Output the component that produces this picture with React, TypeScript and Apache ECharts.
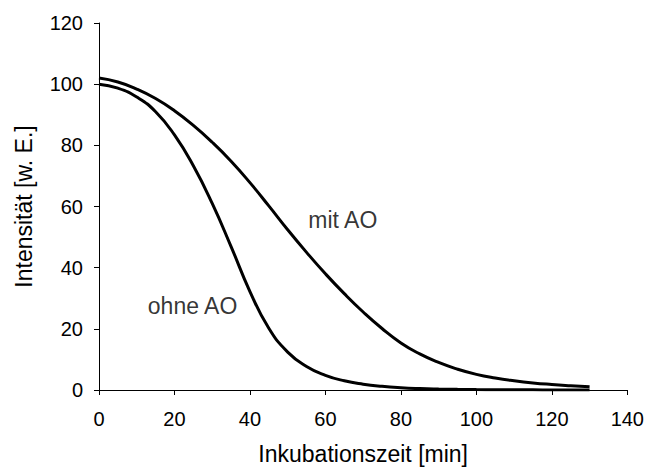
import React, { useEffect, useRef } from "react";
import * as echarts from "echarts";

const times = [0, 5, 10, 15, 20, 25, 30, 35, 40, 45, 50, 55, 60, 65, 70, 75, 80, 85, 90, 95, 100, 105, 110, 115, 120, 125, 130];
const ohneAO = [100, 98.7, 95.8, 91.0, 83.4, 73.3, 61.0, 46.9, 32.2, 20.2, 12.4, 7.7, 4.8, 3.0, 1.9, 1.2, 0.75, 0.48, 0.32, 0.22, 0.15, 0.1, 0.07, 0.05, 0.03, 0.02, 0.01];
const mitAO = [102, 100.7, 98.4, 95.3, 91.3, 86.5, 81.0, 74.8, 67.8, 60.2, 52.4, 45.0, 38.0, 31.5, 25.5, 20.1, 15.4, 11.8, 9.0, 6.8, 5.1, 3.9, 3.0, 2.3, 1.8, 1.4, 1.05];

const seriesNames = ["ohne AO", "mit AO"];
const labelPositions: [number, number][] = [
  [24.8, 27.6],
  [64.6, 55.6],
];

const xTitle = "Inkubationszeit [min]";
const yTitle = "Intensität [w. E.]";

const FONT = "'Liberation Sans', Arial, Helvetica, sans-serif";

export default function App() {
  const ref = useRef<HTMLDivElement>(null);
  useEffect(() => {
    if (!ref.current) return;
    const chart = echarts.init(ref.current, undefined, { renderer: "svg" });
    const toPairs = (ys: number[]) => times.map((t, i) => [t, ys[i]]);
    chart.setOption({
      animation: false,
      backgroundColor: "#ffffff",
      textStyle: { fontFamily: FONT, color: "#000" },
      grid: { left: 99, right: 18, top: 23, bottom: 77, containLabel: false },
      xAxis: {
        type: "value",
        min: 0,
        max: 140,
        interval: 20,
        name: xTitle,
        nameLocation: "middle",
        nameGap: 52,
        nameTextStyle: { fontFamily: FONT, fontSize: 23, color: "#000" },
        axisLine: { show: true, onZero: false, lineStyle: { color: "#000", width: 1 } },
        axisTick: { show: true, length: 5, inside: false, lineStyle: { color: "#000" } },
        axisLabel: { fontFamily: FONT, fontSize: 20, color: "#000", margin: 19 },
        splitLine: { show: false },
      },
      yAxis: {
        type: "value",
        min: 0,
        max: 120,
        interval: 20,
        name: yTitle,
        nameLocation: "middle",
        nameGap: 64,
        nameRotate: 90,
        nameTextStyle: { fontFamily: FONT, fontSize: 23, color: "#000" },
        axisLine: { show: true, lineStyle: { color: "#000", width: 1 } },
        axisTick: { show: true, length: 5, inside: false, lineStyle: { color: "#000" } },
        axisLabel: { fontFamily: FONT, fontSize: 20, color: "#000", margin: 16 },
        splitLine: { show: false },
      },
      series: [
        {
          name: seriesNames[0],
          type: "line",
          data: toPairs(ohneAO),
          smooth: 0.5,
          showSymbol: false,
          symbol: "none",
          lineStyle: { color: "#000", width: 3 },
          z: 3,
        },
        {
          name: seriesNames[1],
          type: "line",
          data: toPairs(mitAO),
          smooth: 0.5,
          showSymbol: false,
          symbol: "none",
          lineStyle: { color: "#000", width: 3 },
          z: 3,
        },
        {
          name: "labels",
          type: "scatter",
          data: labelPositions.map((p, i) => ({ value: p, name: seriesNames[i] })),
          symbolSize: 1,
          itemStyle: { color: "rgba(0,0,0,0)" },
          label: {
            show: true,
            position: "inside",
            formatter: (p: any) => p.name,
            fontFamily: FONT,
            fontSize: 23,
            color: "#000",
          },
          silent: true,
          z: 4,
        },
      ],
    });
    return () => chart.dispose();
  }, []);
  return (
    <div
      ref={ref}
      style={{ position: "fixed", left: 0, top: 0, width: 647, height: 470, background: "#fff" }}
    />
  );
}
